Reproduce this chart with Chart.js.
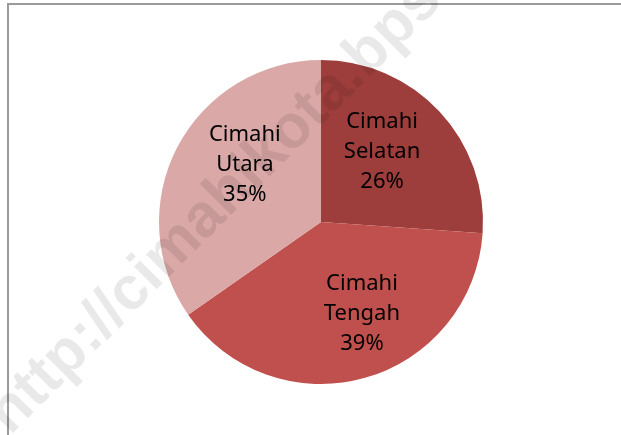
<!DOCTYPE html>
<html>
<head>
<meta charset="utf-8">
<script src="https://cdn.jsdelivr.net/npm/chart.js@4/dist/chart.umd.min.js"></script>
<style>
  html, body { margin: 0; padding: 0; background: #fff; }
  #wrap { position: relative; width: 621px; height: 435px; overflow: hidden; }
  #frame { position: absolute; left: 7px; top: 3px; width: 700px; height: 500px;
           border-top: 2px solid #9a9a9a; border-left: 2px solid #9a9a9a; }
  canvas { position: absolute; left: 0; top: 0; }
</style>
</head>
<body>
<div id="wrap">
  <div id="frame"></div>
  <canvas id="chart" width="621" height="435"></canvas>
</div>
<script>
// Kecamatan di Kota Cimahi (persentase)
const categories = ['Cimahi Selatan', 'Cimahi Tengah', 'Cimahi Utara'];
const shares = [26.1, 39.2, 34.7];
const shareLabels = ['26%', '39%', '35%'];
const sliceColors = ['#9d3e3c', '#c0504d', '#d9a8a7'];

const watermark = 'http://cimahikota.bps.go.id';

// data labels centred in each slice, like Excel's "best fit"
const sliceLabels = {
    id: 'sliceLabels',
    afterDatasetsDraw(chart, args, opts) {
        const ctx = chart.ctx;
        const meta = chart.getDatasetMeta(0);
        ctx.save();
        ctx.fillStyle = '#000';
        ctx.font = opts.font;
        ctx.textAlign = 'center';
        ctx.textBaseline = 'middle';
        meta.data.forEach((arc, i) => {
            const mid = (arc.startAngle + arc.endAngle) / 2;
            const r = arc.outerRadius * opts.radius;
            const nudge = opts.nudge[i] || [0, 0];
            const x = arc.x + Math.cos(mid) * r + nudge[0];
            const y = arc.y + Math.sin(mid) * r + nudge[1];
            const words = categories[i].split(' ');
            const lines = [words[0], words.slice(1).join(' '), shareLabels[i]];
            lines.forEach((t, k) => {
                ctx.fillText(t, x, y + (k - 1) * opts.lineHeight);
            });
        });
        ctx.restore();
    }
};

const watermarkPlugin = {
    id: 'watermark',
    afterDraw(chart, args, opts) {
        const ctx = chart.ctx;
        ctx.save();
        ctx.translate(opts.x, opts.y);
        ctx.rotate(opts.angle * Math.PI / 180);
        ctx.font = opts.font;
        ctx.fillStyle = opts.color;
        ctx.textBaseline = 'alphabetic';
        ctx.fillText(watermark, 0, 0);
        ctx.restore();
    }
};

new Chart(document.getElementById('chart'), {
    type: 'pie',
    data: {
        labels: categories,
        datasets: [{
            data: shares,
            backgroundColor: sliceColors,
            borderWidth: 0
        }]
    },
    options: {
        responsive: false,
        animation: false,
        layout: { padding: { left: 21, right: 0, top: 60, bottom: 51 } },
        plugins: {
            legend: { display: false },
            tooltip: { enabled: false },
            sliceLabels: {
                font: '22px "Noto Sans", sans-serif',
                radius: 0.6,
                lineHeight: 30,
                nudge: [[-10, -4], [15, -2], [10, -12]]
            },
            watermark: {
                x: 10, y: 436, angle: -45,
                font: 'bold 61px "Liberation Sans", Arial, sans-serif',
                color: 'rgba(0,0,0,0.085)'
            }
        }
    },
    plugins: [sliceLabels, watermarkPlugin]
});
</script>
</body>
</html>
